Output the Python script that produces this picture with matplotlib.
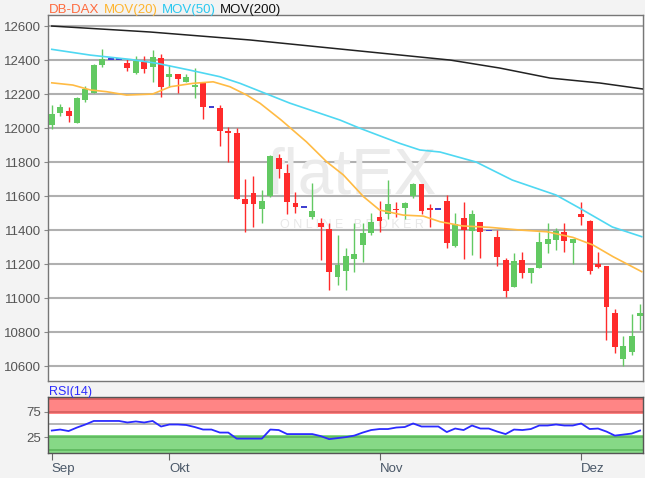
import matplotlib
matplotlib.use("Agg")
import matplotlib.pyplot as plt
import numpy as np

# daily candles, index 0 = first visible day (mid Sep)
opens = [12018, 12087, 12102, 12031, 12165, 12208, 12371, 12406, 12406, 12384,
         12325, 12390, 12357, 12410, 12302, 12316, 12272, 12239, 12263, 12125,
         12118, 11981, 11973, 11583, 11620, 11522, 11600, 11822, 11734, 11557,
         11534, 11475, 11443, 11405, 11122, 11161, 11228, 11312, 11385, 11479,
         11494, 11524, 11528, 11600, 11671, 11528, 11524, 11573, 11306, 11469,
         11394, 11449, 11396, 11361, 11224, 11067, 11224, 11146, 11175, 11316,
         11341, 11390, 11322, 11494, 11455, 11200, 11189, 10914, 10640, 10685,
         10894]
highs = [12135, 12141, 12125, 12181, 12247, 12376, 12463, 12406, 12406, 12404,
         12424, 12424, 12459, 12435, 12371, 12316, 12318, 12351, 12272, 12125,
         12135, 12008, 11998, 11700, 11718, 11636, 11841, 11847, 11789, 11626,
         11534, 11675, 11469, 11440, 11371, 11293, 11443, 11443, 11502, 11573,
         11694, 11567, 11567, 11675, 11671, 11553, 11524, 11606, 11498, 11567,
         11518, 11449, 11396, 11400, 11234, 11263, 11273, 11175, 11390, 11443,
         11410, 11439, 11346, 11567, 11459, 11273, 11189, 10934, 10777, 10906,
         10965]
lows = [11994, 12071, 12037, 12028, 12153, 12204, 12361, 12406, 12406, 12337,
        12318, 12325, 12272, 12184, 12243, 12204, 12269, 12175, 12053, 12125,
        11896, 11802, 11580, 11390, 11420, 11443, 11596, 11704, 11494, 11502,
        11534, 11463, 11224, 11048, 11077, 11047, 11155, 11214, 11371, 11390,
        11463, 11479, 11463, 11587, 11494, 11420, 11524, 11293, 11299, 11228,
        11253, 11234, 11396, 11189, 11004, 11067, 11116, 11091, 11175, 11263,
        11283, 11273, 11200, 11428, 11141, 11175, 10753, 10675, 10600, 10665,
        10812]
closes = [12082, 12126, 12071, 12175, 12228, 12371, 12406, 12406, 12406, 12351,
          12394, 12345, 12416, 12243, 12316, 12286, 12302, 12255, 12122, 12125,
          11984, 11969, 11583, 11553, 11553, 11571, 11835, 11757, 11567, 11537,
          11534, 11514, 11416, 11155, 11194, 11247, 11259, 11381, 11449, 11455,
          11553, 11518, 11557, 11671, 11514, 11518, 11524, 11322, 11435, 11400,
          11494, 11390, 11396, 11244, 11039, 11220, 11146, 11175, 11332, 11346,
          11396, 11338, 11346, 11479, 11161, 11185, 10946, 10714, 10718, 10777,
          10910]

# moving averages, sampled along the drawn lines (day index, price)
ma20_idx = [0, 2.5, 4.6, 6.5, 8.9, 12, 14.1, 16.8, 19.2, 21.2, 23.2, 24.8, 27.3,
            30.3, 32.7, 34.7, 37.1, 39, 41.8, 44.2, 46.2, 48.9, 52.1, 55.7, 58.9,
            62, 64.4, 66.8, 70.2]
ma20_val = [12266, 12253, 12224, 12214, 12194, 12200, 12243, 12263, 12272, 12243,
            12194, 12145, 12047, 11919, 11802, 11724, 11596, 11518, 11488, 11482,
            11449, 11424, 11416, 11400, 11390, 11357, 11312, 11243, 11155]
ma50_idx = [0, 4.6, 9.3, 12.5, 16.4, 20, 22.4, 28.3, 34.3, 36.7, 41.4, 43.8, 46.2,
            50.5, 54.8, 60, 62.8, 66.7, 70.2]
ma50_val = [12463, 12429, 12404, 12381, 12341, 12302, 12263, 12147, 12047, 11998,
            11910, 11871, 11859, 11800, 11694, 11606, 11529, 11418, 11361]
ma200_idx = [0, 11.7, 23.6, 35.5, 47.4, 53.3, 59.3, 65.2, 70.3]
ma200_val = [12600, 12565, 12518, 12459, 12400, 12353, 12294, 12265, 12230]

rsi = [38, 40, 37, 44, 50, 57, 57, 57, 57, 54, 56, 54, 57, 46, 50, 50, 49, 45, 40, 40,
       34, 34, 22, 22, 22, 22, 40, 39, 31, 31, 31, 31, 27, 21, 23, 25, 28, 34, 39, 41,
       41, 44, 45, 52, 46, 46, 46, 35, 42, 39, 48, 42, 42, 36, 31, 40, 39, 41, 48, 48,
       50, 48, 48, 52, 41, 42, 36, 28, 30, 32, 38]

month_idx = [0, 14, 39, 63]
month_labels = ["Sep", "Okt", "Nov", "Dez"]
price_ticks = [10600, 10800, 11000, 11200, 11400, 11600, 11800, 12000, 12200, 12400, 12600]

GREEN = "#62c962"
RED = "#ff2b2b"
BLUE = "#4040d0"
TICK_COL = "#555555"

plt.rcParams["font.family"] = ["Liberation Sans", "DejaVu Sans"]

fig = plt.figure(figsize=(6.45, 4.78), dpi=100, facecolor="#f3f3f3")
W, H = 645.0, 478.0
ax = fig.add_axes([48 / W, 1 - 381 / H, 595 / W, 366 / H])
ax_rsi = fig.add_axes([48 / W, 1 - 453 / H, 595 / W, 56 / H])

x = np.arange(len(opens))
o = np.array(opens, float)
h = np.array(highs, float)
l = np.array(lows, float)
c = np.array(closes, float)
colors = np.where(c > o, GREEN, np.where(c < o, RED, BLUE))

# watermark
ax.text(0.51, 0.56, "flatEX", transform=ax.transAxes, ha="center", va="center",
        fontsize=46, color="#ebebeb", zorder=1)
ax.text(0.51, 0.425, "O N L I N E   B R O K E R", transform=ax.transAxes, ha="center",
        va="center", fontsize=9, color="#e8e8e8", zorder=1)

ax.vlines(x, l, h, colors=colors, linewidth=1.0, zorder=3)
body = np.abs(c - o)
min_h = 9.0
bottom = np.minimum(o, c) - np.clip(min_h - body, 0, None) / 2
ax.bar(x, np.maximum(body, min_h), width=0.7, bottom=bottom, color=colors,
       linewidth=0, zorder=4)

ax.plot(ma200_idx, ma200_val, color="#222222", lw=1.1, zorder=5)
ax.plot(ma50_idx, ma50_val, color="#4fd8f2", lw=1.2, zorder=5)
ax.plot(ma20_idx, ma20_val, color="#ffbb44", lw=1.2, zorder=5)

ax.set_xlim(-0.45, 70.35)
ax.set_ylim(10512, 12665)
ax.set_yticks(price_ticks)
ax.yaxis.grid(True, color="#b0b0b0", lw=1.5, zorder=0)
ax.set_axisbelow(True)
ax.set_xticks([])
ax.tick_params(axis="y", length=3, color="#888888", labelcolor=TICK_COL, labelsize=9.5, pad=2)
for s in ax.spines.values():
    s.set_color("#777777")
    s.set_linewidth(1.0)

# legend line at the top
t = fig.text(49 / W, 1 - 13 / H, "DB-DAX", color="#ff6a3d", fontsize=9.5)
for label, col in [("MOV(20)", "#ffb52e"), ("MOV(50)", "#29c8f0"), ("MOV(200)", "#111111")]:
    t = ax.annotate(label, xy=(1, 0), xycoords=t, xytext=(3, 0), textcoords="offset points",
                    color=col, fontsize=9.5, va="bottom", ha="left", annotation_clip=False)

# RSI panel
ax_rsi.set_xlim(-0.45, 70.35)
ax_rsi.set_ylim(-6.5, 104.5)
ax_rsi.axhspan(70, 104.5, color="#ff8585", lw=0, zorder=0)
ax_rsi.axhspan(-6.5, 30, color="#86d986", lw=0, zorder=0)
for lvl, col in [(100, "#d96060"), (75, "#d96060"), (50, "#b0b0b0"), (25, "#5fb85f"), (0, "#5fb85f")]:
    ax_rsi.axhline(lvl, color=col, lw=1.3, zorder=1)
ax_rsi.plot(x, rsi, color="#2b2bff", lw=1.3, zorder=3)
ax_rsi.set_yticks([25, 75])
ax_rsi.set_xticks(month_idx)
ax_rsi.set_xticklabels(month_labels, ha="left")
ax_rsi.tick_params(axis="y", length=3, color="#888888", labelcolor=TICK_COL, labelsize=9.5, pad=2)
ax_rsi.tick_params(axis="x", length=5, color="#666666", labelcolor="#4a5868", labelsize=9.5, pad=2)
for s in ax_rsi.spines.values():
    s.set_color("#555555")
    s.set_linewidth(1.0)
fig.text(49 / W, 1 - 395 / H, "RSI(14)", color="#2b2bff", fontsize=9)

fig.savefig("out.png", dpi=100, facecolor=fig.get_facecolor())
